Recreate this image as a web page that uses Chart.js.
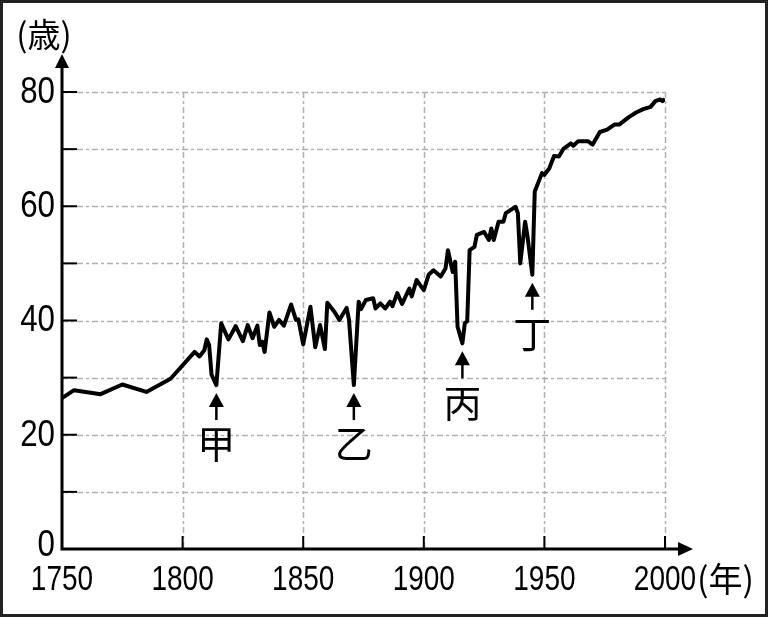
<!DOCTYPE html>
<html>
<head>
<meta charset="utf-8">
<script src="https://cdn.jsdelivr.net/npm/chart.js@4.4.1/dist/chart.umd.min.js"></script>
<style>
  html, body { margin: 0; padding: 0; background: #fff; }
  #wrap { width: 768px; height: 617px; position: relative; }
</style>
</head>
<body>
<div id="wrap"><canvas id="chart" width="768" height="617"></canvas></div>
<script>
// Life expectancy (years of age)
const years = [
  1750, 1755, 1766, 1775, 1785, 1795, 1805, 1807, 1809, 1810,
  1811, 1812, 1814, 1816, 1819, 1822, 1825, 1827, 1829, 1831,
  1832, 1833, 1834, 1836, 1838, 1840, 1842, 1845, 1847, 1848,
  1850, 1853, 1855, 1857, 1859, 1860, 1863, 1865, 1868, 1869,
  1871, 1873, 1874, 1876, 1879, 1880, 1882, 1884, 1886, 1887,
  1889, 1891, 1894, 1895, 1897, 1899, 1900, 1902, 1904, 1907,
  1909, 1910, 1912, 1913, 1914, 1916, 1917, 1918, 1919, 1921,
  1922, 1925, 1927, 1928, 1929, 1931, 1933, 1934, 1938, 1939,
  1940, 1942, 1943, 1945, 1946, 1949, 1950, 1952, 1954, 1956,
  1958, 1961, 1962, 1964, 1968, 1970, 1973, 1976, 1979, 1981,
  1985, 1988, 1991, 1994, 1996, 1998, 1999, 2000
];
const lifeExp = [
  26.4, 27.8, 27.1, 28.8, 27.5, 29.8, 34.5, 33.7, 34.8, 36.7,
  35.7, 30.5, 28.7, 39.5, 36.7, 39.0, 36.4, 39.2, 36.9, 39.1,
  35.7, 36.3, 34.5, 41.4, 38.9, 40.1, 39.1, 42.8, 40.1, 40.2,
  35.8, 42.4, 35.3, 39.2, 35.0, 43.1, 41.5, 40.1, 42.2, 40.1,
  28.7, 43.3, 42.0, 43.6, 43.9, 42.1, 43.0, 42.1, 43.3, 42.5,
  44.8, 42.9, 45.6, 44.2, 47.1, 45.9, 45.3, 48.0, 48.8, 47.7,
  49.1, 52.3, 48.5, 50.3, 38.9, 36.0, 39.5, 39.9, 52.3, 52.9,
  55.0, 55.5, 54.1, 56.1, 54.1, 57.3, 57.3, 58.8, 59.9, 58.8,
  50.0, 57.3, 54.7, 48.0, 62.6, 65.8, 65.5, 66.6, 68.8, 68.7,
  70.1, 71.0, 70.6, 71.4, 71.4, 70.8, 73.0, 73.4, 74.3, 74.3,
  75.6, 76.4, 77.0, 77.4, 78.4, 78.7, 78.4, 78.8
];

// marked dips
const eventLabels = ['甲', '乙', '丙', '丁'];
const eventYears = [1814, 1871, 1916, 1945];
const eventValues = [28.7, 28.7, 36.0, 48.0];

const yUnit = '(歳)';
const xUnit = '(年)';

const numFont = "'Liberation Sans', Arial, sans-serif";
const cjkFont = "'Noto Sans CJK JP', sans-serif";

function drawArrowUp(ctx, x, tipY, stemLen) {
  ctx.beginPath();
  ctx.moveTo(x, tipY + 10);
  ctx.lineTo(x, tipY + stemLen);
  ctx.stroke();
  ctx.beginPath();
  ctx.moveTo(x, tipY);
  ctx.lineTo(x - 7.5, tipY + 14);
  ctx.lineTo(x + 7.5, tipY + 14);
  ctx.closePath();
  ctx.fill();
}

// the numbers in the original are set in a narrow face, so squeeze them a bit
function drawNum(ctx, text, x, y, align, sx) {
  ctx.save();
  ctx.translate(x, y);
  ctx.scale(sx, 1);
  ctx.textAlign = align;
  ctx.fillText(text, 0, 0);
  ctx.restore();
}

const axisDecor = {
  id: 'axisDecor',
  beforeDatasetsDraw(chart) {
    const { ctx, chartArea: a, scales: { x, y } } = chart;
    ctx.save();

    // dashed grid
    ctx.strokeStyle = '#b0b0b0';
    ctx.lineWidth = 1.5;
    ctx.setLineDash([6, 3, 3, 3]);
    for (let v = 10; v <= 80; v += 10) {
      const py = Math.round(y.getPixelForValue(v)) + 0.5;
      ctx.beginPath();
      ctx.moveTo(a.left, py);
      ctx.lineTo(a.right, py);
      ctx.stroke();
    }
    for (let t = 1800; t <= 2000; t += 50) {
      const px = Math.round(x.getPixelForValue(t)) + 0.5;
      ctx.beginPath();
      ctx.moveTo(px, a.top);
      ctx.lineTo(px, a.bottom);
      ctx.stroke();
    }
    ctx.setLineDash([]);

    // inner tick marks
    ctx.strokeStyle = '#000';
    ctx.lineWidth = 2;
    for (let v = 10; v <= 80; v += 10) {
      const py = y.getPixelForValue(v);
      ctx.beginPath();
      ctx.moveTo(a.left, py);
      ctx.lineTo(a.left + 15, py);
      ctx.stroke();
    }
    for (let t = 1800; t <= 2000; t += 50) {
      const px = x.getPixelForValue(t);
      ctx.beginPath();
      ctx.moveTo(px, a.bottom);
      ctx.lineTo(px, a.bottom - 13);
      ctx.stroke();
    }

    // axes with arrow heads
    ctx.lineWidth = 3;
    ctx.fillStyle = '#000';
    ctx.beginPath();
    ctx.moveTo(a.left, a.bottom + 1.5);
    ctx.lineTo(a.left, a.top - 26);
    ctx.moveTo(a.left - 1.5, a.bottom);
    ctx.lineTo(a.right + 14, a.bottom);
    ctx.stroke();
    ctx.beginPath();
    ctx.moveTo(a.left, a.top - 38);
    ctx.lineTo(a.left - 7, a.top - 24);
    ctx.lineTo(a.left + 7, a.top - 24);
    ctx.closePath();
    ctx.fill();
    ctx.beginPath();
    ctx.moveTo(a.right + 28, a.bottom);
    ctx.lineTo(a.right + 13, a.bottom - 7);
    ctx.lineTo(a.right + 13, a.bottom + 7);
    ctx.closePath();
    ctx.fill();
    ctx.restore();
  },
  afterDatasetsDraw(chart) {
    const { ctx, chartArea: a, scales: { x, y } } = chart;
    ctx.save();
    ctx.fillStyle = '#000';
    ctx.strokeStyle = '#000';
    ctx.lineWidth = 2.5;
    ctx.textAlign = 'center';
    ctx.textBaseline = 'middle';

    // tick labels
    ctx.font = '36px ' + numFont;
    y.ticks.forEach(t => {
      const py = y.getPixelForValue(t.value) + (t.value === 0 ? -3 : 1);
      drawNum(ctx, String(t.value), a.left - 7, py, 'right', 0.87);
    });
    ctx.font = '35px ' + numFont;
    x.ticks.forEach(t => {
      drawNum(ctx, String(t.value), x.getPixelForValue(t.value), a.bottom + 31, 'center', 0.8);
    });

    // events
    ctx.font = '38px ' + cjkFont;
    eventLabels.forEach((lab, i) => {
      const px = x.getPixelForValue(eventYears[i]);
      const tip = y.getPixelForValue(eventValues[i]) + 8;
      drawArrowUp(ctx, px, tip, 27);
      ctx.fillText(lab, px, tip + 51);
    });

    // units
    ctx.font = '33px ' + cjkFont;
    ctx.fillText(yUnit, a.left - 18, a.top - 58);
    ctx.textAlign = 'left';
    ctx.font = '34px ' + cjkFont;
    ctx.fillText(xUnit, a.right + 32, a.bottom + 30);
    ctx.restore();
  },
  afterDraw(chart) {
    const { ctx, width, height } = chart;
    ctx.save();
    ctx.strokeStyle = '#222';
    ctx.lineWidth = 3;
    ctx.strokeRect(1.5, 1.5, width - 3, height - 3);
    ctx.restore();
  }
};

new Chart(document.getElementById('chart'), {
  type: 'line',
  data: {
    datasets: [{
      data: years.map((yr, i) => ({ x: yr, y: lifeExp[i] })),
      borderColor: '#000',
      borderWidth: 4,
      borderJoinStyle: 'round',
      pointRadius: 0,
      tension: 0,
      fill: false
    }]
  },
  options: {
    responsive: false,
    animation: false,
    devicePixelRatio: 1,
    layout: { padding: { top: 92, right: 103, left: 0, bottom: 0 } },
    plugins: {
      legend: { display: false },
      tooltip: { enabled: false }
    },
    scales: {
      x: {
        type: 'linear',
        min: 1750,
        max: 2000,
        grid: { display: false, drawTicks: false },
        border: { display: false },
        ticks: { stepSize: 50, display: false },
        afterFit: s => { s.height = 68; }
      },
      y: {
        min: 0,
        max: 80,
        grid: { display: false, drawTicks: false },
        border: { display: false },
        ticks: { stepSize: 20, display: false },
        afterFit: s => { s.width = 62; }
      }
    }
  },
  plugins: [axisDecor]
});
</script>
</body>
</html>
